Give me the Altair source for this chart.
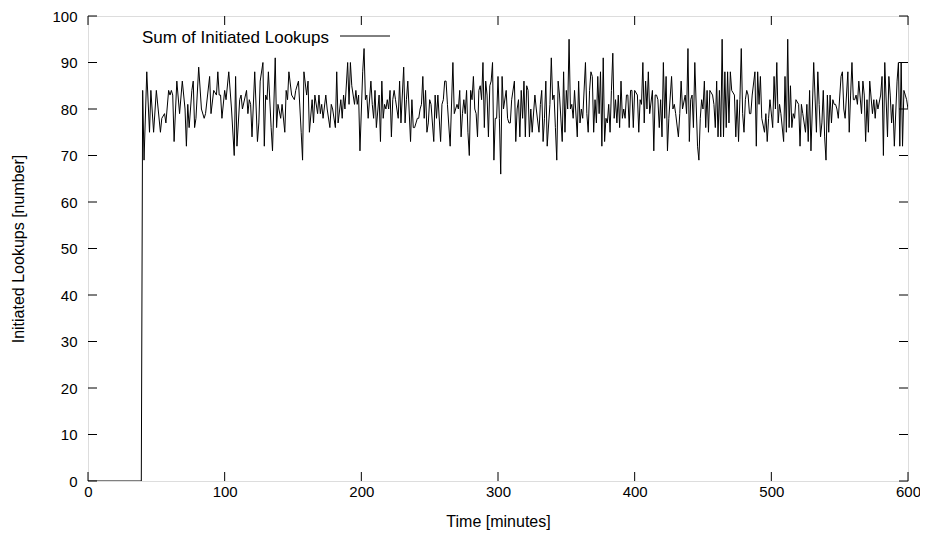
import altair as alt
import pandas as pd

# Time (minutes) and number of initiated lookups
minutes = [
    0, 39, 40, 41, 43, 45, 46, 48, 50, 53, 54, 56, 57, 59, 60, 61, 62, 63, 65, 67, 69, 71, 72, 73, 74, 76, 77, 78,
    79, 81, 83, 85, 86, 89, 90, 92, 94, 95, 96, 97, 98, 100, 101, 103, 105, 107, 108, 109, 111, 112, 113, 116, 117, 118, 119, 120, 122, 124, 125, 126,
    128, 129, 130, 131, 132, 134, 135, 137, 138, 139, 141, 142, 144, 145, 146, 147, 149, 151, 152, 154, 156, 157, 158, 160, 161, 162, 164, 165, 166, 168, 169, 170, 171, 172, 174, 175,
    177, 178, 179, 181, 182, 183, 185, 186, 187, 188, 190, 191, 192, 193, 195, 196, 197, 198, 199, 201, 202, 203, 204, 205, 207, 208, 209, 210, 211, 213, 214, 215, 216, 217, 218, 219, 220, 221, 222, 223, 224,
    225, 227, 228, 229, 231, 232, 233, 234, 236, 237, 238, 239, 241, 242, 243, 244, 245, 246, 247, 248, 249, 250, 251, 253, 254, 255, 256, 258, 259, 260, 261, 262, 263, 265, 267, 268, 270, 271, 272,
    273, 274, 275, 276, 277, 278, 279, 280, 281, 282, 283, 284, 285, 286, 287, 288, 289, 290, 291, 292, 293, 294, 295, 296, 297, 298, 299, 300, 301, 302, 303, 304,
    306, 307, 308, 309, 310, 312, 313, 314, 315, 316, 317, 318, 319, 320,
    321, 322, 323, 324, 325, 327, 328, 330, 331, 332, 333, 334, 335, 336, 338, 339, 340, 341, 342, 343, 344, 345,
    347, 348, 349, 350, 351, 352, 353, 354, 355, 356, 358, 359, 360, 361, 362, 364, 365, 366, 367, 368,
    369, 370, 371, 372, 373, 374, 375, 376, 377, 378, 379, 380, 381, 382, 383, 384, 385, 386, 387, 388, 389, 390, 391, 392, 393, 394, 395, 396, 397, 398, 399, 400,
    402, 403, 404, 405, 406, 407, 408, 409, 410, 411, 413, 414, 415, 416, 417, 418, 419, 420, 421, 422, 423, 424, 425,
    427, 428, 429, 430, 432, 433, 434, 435, 437, 438, 439, 440, 441, 442, 443, 444,
    446, 447, 448, 449, 450, 451, 452, 453, 454, 455, 457, 458, 459, 460, 461, 462, 463, 464, 465,
    466, 467, 468, 469, 470, 471, 473, 474, 475, 476, 477, 478, 479, 480, 481, 482, 483, 484, 485, 486,
    488, 489, 490, 491, 492, 493, 495, 496, 497, 498, 499, 501, 502, 503, 504, 505, 506, 507, 509, 510, 511, 512, 513,
    514, 515, 516, 517, 518, 520, 521, 522, 523, 525, 526, 527, 528, 529, 530, 531,
    533, 534, 535, 536, 537, 538, 539, 540, 541, 542, 543, 544, 545, 546, 547, 548, 549,
    551, 552, 553, 554, 556, 557, 558, 559, 560, 561,
    562, 563, 564, 566, 567, 568, 569, 570, 571, 572, 574, 575, 576, 577, 578,
    580, 581, 582, 583, 585, 586, 587, 588, 589, 590, 592, 593, 594, 595, 596, 597, 598, 599, 600,
]
lookups = [
    0, 0, 84, 69, 88, 75, 84, 75, 84, 75, 78, 79, 77, 84, 83, 84, 83, 73, 86, 79, 86, 80, 72, 81, 76, 84, 86, 76,
    78, 89, 80, 78, 79, 87, 79, 84, 83, 88, 83, 83, 78, 84, 82, 88, 80, 70, 87, 72, 82, 83, 80, 84, 79, 82, 81, 74, 88, 73, 77, 86,
    90, 72, 83, 82, 88, 76, 71, 91, 76, 81, 78, 81, 75, 84, 82, 88, 83, 82, 84, 86, 75, 69, 88, 83, 86, 75, 82, 77, 83, 79, 83, 79, 81, 78, 83, 80,
    76, 81, 80, 76, 88, 77, 82, 78, 83, 80, 90, 81, 90, 85, 81, 84, 81, 83, 71, 88, 93, 82, 83, 78, 86, 81, 78, 84, 76, 83, 73, 86, 78, 81, 80, 82, 80, 84, 74, 82, 84,
    82, 78, 86, 77, 89, 77, 82, 86, 73, 82, 76, 76, 78, 78, 80, 81, 87, 78, 84, 75, 77, 82, 81, 73, 83, 78, 83, 73, 81, 82, 86, 86, 81, 72, 90, 79, 81, 80, 84,
    74, 79, 82, 79, 84, 75, 70, 84, 82, 87, 80, 79, 74, 84, 85, 82, 90, 76, 86, 83, 74, 85, 86, 90, 69, 78, 78, 87, 78, 66, 87, 80,
    84, 78, 77, 77, 82, 86, 73, 80, 82, 74, 84, 78, 86, 74,
    85, 84, 74, 80, 75, 83, 80, 75, 81, 84, 73, 78, 86, 72, 81, 91, 82, 83, 76, 69, 86, 83,
    73, 88, 75, 84, 80, 95, 80, 81, 78, 84, 74, 86, 77, 80, 78, 90, 79, 75, 84, 88,
    87, 75, 82, 77, 87, 79, 88, 72, 91, 73, 78, 77, 81, 75, 84, 92, 78, 82, 77, 83, 76, 86, 78, 80, 78, 83, 83, 76, 84, 84, 76, 84,
    83, 75, 82, 81, 90, 77, 86, 80, 88, 79, 84, 71, 83, 83, 82, 76, 82, 74, 90, 78, 87, 71, 78,
    87, 80, 81, 79, 74, 79, 86, 80, 83, 79, 93, 73, 82, 83, 76, 90,
    72, 69, 78, 82, 80, 86, 76, 84, 75, 84, 83, 81, 76, 86, 74, 84, 74, 95, 74,
    88, 76, 88, 77, 88, 84, 83, 74, 82, 73, 82, 93, 79, 75, 82, 84, 83, 79, 79, 83,
    88, 72, 88, 81, 87, 78, 75, 79, 73, 78, 82, 76, 87, 80, 90, 77, 81, 79, 73, 87, 75, 95, 76,
    85, 76, 79, 78, 82, 81, 72, 81, 79, 75, 81, 73, 84, 71, 80, 90,
    75, 88, 81, 74, 77, 84, 74, 69, 83, 75, 83, 77, 82, 81, 81, 80, 78,
    87, 88, 80, 78, 88, 75, 83, 90, 82, 82,
    83, 81, 86, 79, 86, 83, 73, 82, 75, 86, 79, 82, 78, 82, 80,
    83, 87, 70, 90, 74, 87, 83, 77, 81, 72, 86, 90, 72, 90, 72, 84, 83, 82, 80,
]
assert len(minutes) == len(lookups)

x_ticks = [0, 100, 200, 300, 400, 500, 600]
y_ticks = [0, 10, 20, 30, 40, 50, 60, 70, 80, 90, 100]
series_name = ["Sum of Initiated Lookups"]

W, H = 820, 465
TL = 9
FONT = "Liberation Sans"

df = pd.DataFrame({"minute": minutes, "lookups": lookups})
xt = pd.DataFrame({"minute": x_ticks})
yt = pd.DataFrame({"lookups": y_ticks})
leg = pd.DataFrame({"label": series_name})

xscale = alt.Scale(domain=[0, 600], nice=False, zero=False)
yscale = alt.Scale(domain=[0, 100], nice=False)

x_axis = alt.Axis(values=x_ticks, ticks=False, domain=False, grid=False,
                  labelFlush=False, labelOverlap=False,
                  labelPadding=3, labelFontSize=15, labelFont=FONT, labelColor="black",
                  title="Time [minutes]", titleFont=FONT, titleFontSize=16,
                  titleFontWeight="normal", titleColor="black",
                  titleY=40, titleBaseline="middle")
y_axis = alt.Axis(values=y_ticks, ticks=False, domain=False, grid=False,
                  labelFlush=False, labelOverlap=False,
                  labelPadding=11, labelFontSize=15, labelFont=FONT, labelColor="black",
                  title="Initiated Lookups [number]", titleFont=FONT, titleFontSize=16,
                  titleFontWeight="normal", titleColor="black",
                  titleX=-70, titleY=H / 2, titleBaseline="middle", titleAlign="center", titleAngle=270)

line = alt.Chart(df).mark_line(color="black", strokeWidth=1, clip=True).encode(
    x=alt.X("minute:Q", scale=xscale, axis=x_axis),
    y=alt.Y("lookups:Q", scale=yscale, axis=y_axis),
)

tick_style = dict(color="black", strokeWidth=1)
bottom_ticks = alt.Chart(xt).mark_rule(**tick_style).encode(
    x=alt.X("minute:Q", scale=xscale), y=alt.value(H), y2=alt.value(H - TL))
top_ticks = alt.Chart(xt).mark_rule(**tick_style).encode(
    x=alt.X("minute:Q", scale=xscale), y=alt.value(0), y2=alt.value(TL))
left_ticks = alt.Chart(yt).mark_rule(**tick_style).encode(
    y=alt.Y("lookups:Q", scale=yscale), x=alt.value(0), x2=alt.value(TL))
right_ticks = alt.Chart(yt).mark_rule(**tick_style).encode(
    y=alt.Y("lookups:Q", scale=yscale), x=alt.value(W - TL), x2=alt.value(W))

legend_text = alt.Chart(leg).mark_text(align="right", baseline="middle", font=FONT,
                                       fontSize=17, color="black").encode(
    text="label:N", x=alt.value(241), y=alt.value(22))
legend_line = alt.Chart(leg).mark_rule(color="black", strokeWidth=1).encode(
    x=alt.value(252), x2=alt.value(302), y=alt.value(20))

chart = alt.layer(line, bottom_ticks, top_ticks, left_ticks, right_ticks,
                  legend_text, legend_line).properties(
    width=W, height=H,
    autosize=alt.AutoSizeParams(type="none"),
    padding={"left": 80, "top": 8, "right": 12, "bottom": 55},
).configure_view(stroke="black", strokeWidth=1).configure(background="white")

chart.save("out.html", embed_options={"renderer": "svg", "actions": False})
